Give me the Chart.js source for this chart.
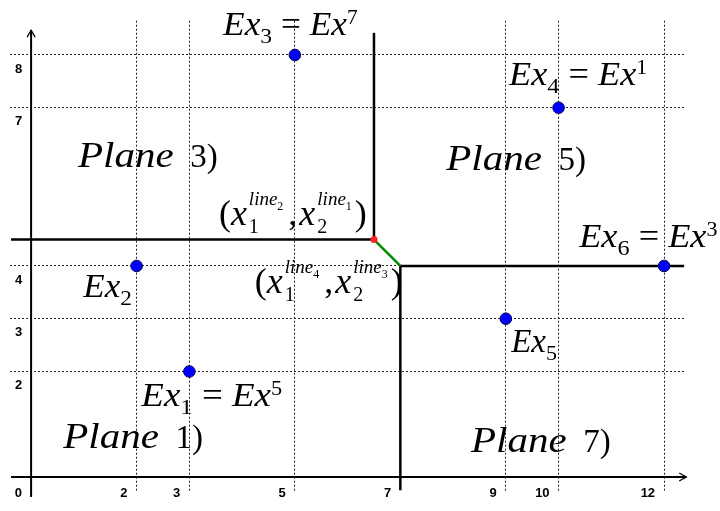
<!DOCTYPE html>
<html lang="en">
<head>
<meta charset="UTF-8" />
<title>Planes and examples</title>
<style>
  * { margin: 0; padding: 0; }
  body { background: #fff; }
  .chartBox { width: 720px; height: 511px; }
</style>
</head>
<body>
<div class="chartBox"><canvas id="myChart"></canvas></div>

<script src="https://cdn.jsdelivr.net/npm/chart.js"></script>
<script>
// data block
const xTicks = [0, 2, 3, 5, 7, 9, 10, 12];
const yTicks = [2, 3, 4, 7, 8];
const exampleNames = ["Ex1", "Ex2", "Ex3", "Ex4", "Ex5", "Ex6"];
const exampleX = [3, 2, 5, 10, 9, 12];
const exampleY = [2, 4, 8, 7, 3, 4];
// segments as [x1, y1, x2, y2]
const line1 = [-0.38, 4.5, 6.5, 4.5];
const line2 = [6.5, 4.5, 6.5, 8.42];
const line3 = [7, 4, 12.38, 4];
const line4 = [7, 4, 7, -0.25];
const joinLine = [6.5, 4.5, 7, 4];
const xAxisLine = [-0.38, 0, 12.42, 0];
const yAxisLine = [0, -0.38, 0, 8.47];

const seg = s => [{ x: s[0], y: s[1] }, { x: s[2], y: s[3] }];

// text runs
const I = (t, s = 33, dy = 0, sx = 1) => ({ t, s, i: true, dy, sx });
const R = (t, s = 33, dy = 0, sx = 1) => ({ t, s, i: false, dy, sx });
const gap = w => ({ gap: w });
const exLabel = (sub, sup) => [I("Ex"), R(sub, 22, 8), R(" = "), I("Ex"), R(sup, 20, -11)];
const coordLabel = (a, b) => [
  R("(", 36), I("x", 36), gap(2),
  { stack: [[I("line", 19, -20), R(a, 12, -15)], [R("1", 20, 8)]] },
  gap(5), R(",", 36), gap(2), I("x", 36), gap(2),
  { stack: [[I("line", 19, -20), R(b, 12, -15)], [R("2", 20, 8)]] },
  gap(3), R(")", 36)
];
const planeLabel = n => [I("Plane", 36, 0, 1.14), R("  " + n + ")", 33)];

const notes = [
  { x: 3.64, y: 8.38, sx: 1.07, runs: exLabel("3", "7") },
  { x: 9.06, y: 7.43, sx: 1.1, runs: exLabel("4", "1") },
  { x: 10.39, y: 4.36, sx: 1.1, runs: exLabel("6", "3") },
  { x: 0.99, y: 3.41, sx: 1.06, runs: [I("Ex"), R("2", 22, 8)] },
  { x: 9.1, y: 2.37, sx: 1, runs: [I("Ex"), R("5", 22, 8)] },
  { x: 2.09, y: 1.35, sx: 1.12, runs: exLabel("1", "5") },
  { x: 0.61, y: 0.55, runs: planeLabel(1) },
  { x: 0.89, y: 5.88, runs: planeLabel(3) },
  { x: 7.87, y: 5.82, runs: planeLabel(5) },
  { x: 8.34, y: 0.47, runs: planeLabel(7) },
  { x: 3.56, y: 4.78, runs: coordLabel("2", "1") },
  { x: 4.24, y: 3.49, runs: coordLabel("4", "3") }
];

function drawRuns(ctx, x, y, runs) {
  runs.forEach(r => {
    if (r.stack) {
      const ends = r.stack.map(part => drawRuns(ctx, x, y, part));
      x = Math.max(...ends);
    } else if (r.gap) {
      x += r.gap;
    } else {
      ctx.font = (r.i ? "italic " : "") + r.s + 'px "Liberation Serif"';
      ctx.save();
      ctx.translate(x, y + r.dy);
      ctx.scale(r.sx, 1);
      ctx.fillText(r.t, 0, 0);
      ctx.restore();
      x += ctx.measureText(r.t).width * r.sx;
    }
  });
  return x;
}

const textPlugin = {
  id: "mathText",
  afterDatasetsDraw(chart) {
    const { ctx, scales } = chart;
    const xs = scales.x, ys = scales.y;
    ctx.save();
    ctx.fillStyle = "#000";
    ctx.textBaseline = "alphabetic";
    ctx.textAlign = "left";
    notes.forEach(n => {
      const px = xs.getPixelForValue(n.x), py = ys.getPixelForValue(n.y);
      ctx.save();
      ctx.translate(px, py);
      ctx.scale(n.sx || 1, 1);
      drawRuns(ctx, 0, 0, n.runs);
      ctx.restore();
    });

    // arrow heads on the axes
    ctx.strokeStyle = "#000";
    ctx.lineWidth = 1.3;
    const ax = xs.getPixelForValue(xAxisLine[2]), ay = ys.getPixelForValue(xAxisLine[3]);
    ctx.beginPath();
    ctx.moveTo(ax - 7, ay - 4); ctx.lineTo(ax, ay); ctx.lineTo(ax - 7, ay + 4);
    ctx.stroke();
    const bx = xs.getPixelForValue(yAxisLine[2]), by = ys.getPixelForValue(yAxisLine[3]);
    ctx.beginPath();
    ctx.moveTo(bx - 4, by + 7); ctx.lineTo(bx, by); ctx.lineTo(bx + 4, by + 7);
    ctx.stroke();
    ctx.restore();
  }
};

const solid = (s, w, color, order) => ({
  type: "line", data: seg(s), showLine: true, borderColor: color || "#000",
  borderWidth: w, pointRadius: 0, clip: false, fill: false, order: order
});

const data = {
  datasets: [
    solid(xAxisLine, 2, "#000", 4),
    solid(yAxisLine, 2, "#000", 4),
    solid(line1, 2.5, "#000", 3),
    solid(line2, 2.5, "#000", 3),
    solid(line3, 2.5, "#000", 3),
    solid(line4, 2.5, "#000", 3),
    solid(joinLine, 2.5, "#008a00", 2),
    {
      label: "corner",
      data: [{ x: joinLine[0], y: joinLine[1] }],
      pointRadius: 3.5, backgroundColor: "#ff2020", borderWidth: 0, clip: false, order: 1
    },
    {
      label: "examples",
      data: exampleX.map((x, i) => ({ x, y: exampleY[i], name: exampleNames[i] })),
      pointRadius: 5.8, backgroundColor: "#0000ff", borderColor: "#00004d",
      borderWidth: 1, clip: false, order: 0
    }
  ]
};

const tickFont = { family: "Liberation Sans", weight: "bold", size: 13 };

const config = {
  type: "scatter",
  data,
  options: {
    responsive: true,
    maintainAspectRatio: false,
    animation: false,
    events: [],
    layout: { padding: { left: 10, right: 34.8, top: 20.7, bottom: 18.2 } },
    plugins: { legend: { display: false }, tooltip: { enabled: false } },
    scales: {
      x: {
        type: "linear", min: -0.4, max: 12.4,
        position: { y: 0 },
        afterBuildTicks: s => { s.ticks = xTicks.map(v => ({ value: v })); },
        grid: {
          color: c => (c.tick && (c.tick.value === 0 || c.tick.value === 7)) ? "rgba(0,0,0,0)" : "#222",
          lineWidth: 1, drawTicks: false
        },
        border: { display: false, dash: [2, 2] },
        ticks: { font: tickFont, color: "#000", align: "end", labelOffset: -9, padding: 9, autoSkip: false, maxRotation: 0 }
      },
      y: {
        type: "linear", min: -0.3, max: 8.65,
        // labels sit just left of the vertical axis
        position: { x: -0.17 },
        afterBuildTicks: s => { s.ticks = yTicks.map(v => ({ value: v })); },
        grid: { color: "#222", lineWidth: 1, drawTicks: false },
        border: { display: false, dash: [2, 2] },
        ticks: { font: tickFont, color: "#000", labelOffset: 14, padding: 0, autoSkip: false }
      }
    }
  },
  plugins: [textPlugin]
};

// init render block
const ctx = document.getElementById("myChart");
const myChart = new Chart(ctx, config);
</script>
</body>
</html>
